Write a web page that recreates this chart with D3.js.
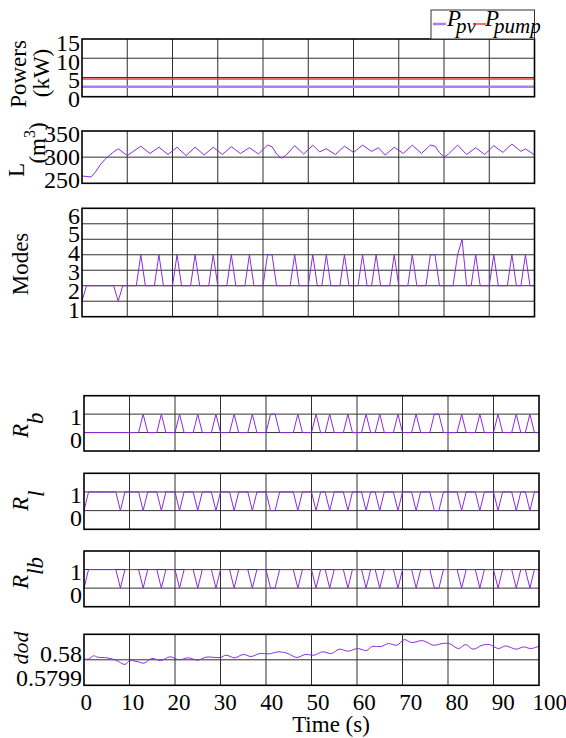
<!DOCTYPE html>
<html>
<head>
<meta charset="utf-8">
<script src="https://cdn.jsdelivr.net/npm/d3@7/dist/d3.min.js"></script>
<style>
html,body{margin:0;padding:0;background:#fff;}
svg{display:block;}
</style>
</head>
<body>
<svg id="chart" width="566" height="738"></svg>
<script>
// ================= DATA =================
const timeTicks = [0,10,20,30,40,50,60,70,80,90,100];
const gridTimes = [10,20,30,40,50,60,70,80,90];

// Powers (kW)
const powerTime = [0, 100];
const pPv   = [2.6, 2.6];
const pPump = [4.6, 4.6];
const powerTicks = [0,5,10,15];

// Level L (m^3)
const levelTime = [0,2,3,4,5,6,7,8,10,13,15,17,19,21,23,25,27,29,31,33,35,37,39,41,42,43,44,45,47,49,51,52.5,54,56,58,60,62,64,65.5,67,69,71,73,75,77,78,79,80,81,83,85,87,89,91,93,95,97,98,100];
const levelM3   = [264,262,272,285,295,303,310,316,303,321,307,319,305,319,303,319,304,319,305,320,307,318,306,323,320,306,298,303,322,306,323,310,316,305,321,309,323,311,318,304,319,307,323,307,323,321,309,300,306,323,305,318,305,322,309,325,311,316,304];
const levelTicks = [250,300,350];

// 1-second samples
const sampleTime = [0,1,2,3,4,5,6,7,8,9,10,11,12,13,14,15,16,17,18,19,20,21,22,23,24,25,26,27,28,29,30,31,32,33,34,35,36,37,38,39,40,41,42,43,44,45,46,47,48,49,50,51,52,53,54,55,56,57,58,59,60,61,62,63,64,65,66,67,68,69,70,71,72,73,74,75,76,77,78,79,80,81,82,83,84,85,86,87,88,89,90,91,92,93,94,95,96,97,98,99,100];
const modes = [
 1,2,2,2,2,2,2,2,1,2,
 2,2,2,4,2,2,2,4,2,2,
 2,4,2,2,2,4,2,2,2,4,
 2,2,2,4,2,2,2,4,2,2,
 2,4,4,2,2,2,2,4,2,2,
 2,4,2,2,4,2,2,2,4,2,
 2,2,4,2,2,4,2,2,2,4,
 2,2,2,4,2,2,2,4,4,2,
 2,2,2,4,5,2,2,4,2,2,
 2,4,2,2,2,4,2,2,4,2,
 2];
const modeTicks = [1,2,3,4,5,6];

const rB = [
 0,0,0,0,0,0,0,0,0,0,
 0,0,0,1,0,0,0,1,0,0,
 0,1,0,0,0,1,0,0,0,1,
 0,0,0,1,0,0,0,1,0,0,
 0,1,1,0,0,0,0,1,0,0,
 0,1,0,0,1,0,0,0,1,0,
 0,0,1,0,0,1,0,0,0,1,
 0,0,0,1,0,0,0,1,1,0,
 0,0,0,1,0,0,0,1,0,0,
 0,1,0,0,0,1,0,0,1,0,
 0];
const rL = [
 0,1,1,1,1,1,1,1,0,1,
 1,1,1,0,1,1,1,0,1,1,
 1,0,1,1,1,0,1,1,1,0,
 1,1,1,0,1,1,1,0,1,1,
 1,0,0,1,1,1,1,0,1,1,
 1,0,1,1,0,1,1,1,0,1,
 1,1,0,1,1,0,1,1,1,0,
 1,1,1,0,1,1,1,0,0,1,
 1,1,1,0,1,1,1,0,1,1,
 1,0,1,1,1,0,1,1,0,1,
 1];
const rLB = [
 0,1,1,1,1,1,1,1,0,1,
 1,1,1,0,1,1,1,0,1,1,
 1,0,1,1,1,0,1,1,1,0,
 1,1,1,0,1,1,1,0,1,1,
 1,0,0,1,1,1,1,0,1,1,
 1,0,1,1,0,1,1,1,0,1,
 1,1,0,1,1,0,1,1,1,0,
 1,1,1,0,1,1,1,0,0,1,
 1,1,1,0,1,1,1,0,1,1,
 1,0,1,1,1,0,1,1,0,1,
 1];
const relayTicks = [0,1];

// dod
const dodTime = [0,1,2.1,3,5,7,9,10,11.9,13.2,14.9,16.9,18.9,20.9,22.8,25.1,26.8,30,31.2,33.1,35,36.7,38.7,40.7,42.7,44.6,46.8,48.6,50.6,52.4,54.4,56.1,58.1,60.1,62.1,63.3,65.3,66.9,68.8,70.4,72,74.4,76.8,78.7,80.3,82.3,83.9,85.5,87.5,89.1,91.1,92.6,95,96.6,98.2,100];
const dod = [0.580003,0.580003,0.5800156,0.5800104,0.5800078,0.5799987,0.5799818,0.5799961,0.5799922,0.579987,0.5800052,0.5799974,0.5800117,0.58,0.5800078,0.5799987,0.5800104,0.5800091,0.5800182,0.5800078,0.5800208,0.580013,0.5800247,0.5800234,0.5800312,0.580026,0.5800091,0.5800208,0.5800182,0.5800312,0.5800247,0.5800416,0.5800338,0.5800442,0.5800364,0.580052,0.580052,0.5800636,0.5800571,0.5800792,0.5800675,0.5800753,0.5800571,0.5800636,0.5800636,0.5800442,0.5800597,0.5800416,0.5800571,0.5800597,0.5800442,0.5800545,0.5800416,0.5800506,0.5800442,0.5800532];
const dodTicks = [0.5799, 0.58];

// ================= DRAWING =================
const FONT = '"Liberation Serif","Times New Roman",Times,serif';
const PURPLE = '#8a2be2';
const PV_PURPLE = '#b07cf0';
const RED = '#e8423a';
const svg = d3.select('#chart');

const upperX = [82, 534.5];
const lowerX = [84, 539];

const panels = [
  {xr: upperX, top: 39,    bottom: 96.7,  yd: [0,15],      grid: [5,10],          ticks: powerTicks, lab: [0.5,16.1],
   series: [{t: powerTime, v: pPump, c: RED, w: 1.5}, {t: powerTime, v: pPv, c: PV_PURPLE, w: 2.5}]},
  {xr: upperX, top: 131,   bottom: 183.3, yd: [250,350],   grid: [300],           ticks: levelTicks, lab: [243,357],
   series: [{t: levelTime, v: levelM3, c: PURPLE, w: 1}]},
  {xr: upperX, top: 208.3, bottom: 316.7, yd: [0,7],       grid: [1,2,3,4,5,6],   ticks: modeTicks, lab: [0.62,6.38],
   series: [{t: sampleTime, v: modes, c: PURPLE, w: 1}]},
  {xr: lowerX, top: 395.7, bottom: 451,   yd: [-1,2],      grid: [0,1],           ticks: relayTicks, lab: [-0.5,1.92],
   series: [{t: sampleTime, v: rB, c: PURPLE, w: 1}]},
  {xr: lowerX, top: 473.3, bottom: 529.3, yd: [-1,2],      grid: [0,1],           ticks: relayTicks, lab: [-0.5,1.92],
   series: [{t: sampleTime, v: rL, c: PURPLE, w: 1}]},
  {xr: lowerX, top: 551,   bottom: 606.7, yd: [-1,2],      grid: [0,1],           ticks: relayTicks, lab: [-0.5,1.92],
   series: [{t: sampleTime, v: rLB, c: PURPLE, w: 1}]},
  {xr: lowerX, top: 634.3, bottom: 685.3, yd: [0.5799,0.5801], grid: [0.58],      ticks: dodTicks, lab: [0.579869,0.580083],
   series: [{t: dodTime, v: dod, c: PURPLE, w: 1, curve: d3.curveCatmullRom}], xaxis: true}
];

panels.forEach(p => {
  const x = d3.scaleLinear().domain([0,100]).range(p.xr);
  const y = d3.scaleLinear().domain(p.yd).range([p.bottom, p.top]);
  const g = svg.append('g');

  g.selectAll('line.vg').data(gridTimes).join('line').attr('class','vg')
    .attr('x1', d => x(d)).attr('x2', d => x(d))
    .attr('y1', p.top).attr('y2', p.bottom)
    .attr('stroke', '#303030').attr('stroke-width', 1);
  g.selectAll('line.hg').data(p.grid).join('line').attr('class','hg')
    .attr('x1', p.xr[0]).attr('x2', p.xr[1])
    .attr('y1', d => y(d)).attr('y2', d => y(d))
    .attr('stroke', '#303030').attr('stroke-width', 1);

  p.series.forEach(s => {
    const pts = s.t.map((t, i) => [t, s.v[i]]);
    g.append('path').datum(pts)
      .attr('d', d3.line().x(d => x(d[0])).y(d => y(d[1])).curve(s.curve || d3.curveLinear))
      .attr('fill', 'none').attr('stroke', s.c).attr('stroke-width', s.w);
  });

  g.append('rect').attr('x', p.xr[0]).attr('y', p.top)
    .attr('width', p.xr[1] - p.xr[0]).attr('height', p.bottom - p.top)
    .attr('fill', 'none').attr('stroke', '#000').attr('stroke-width', 1.6);

  const ly = d3.scaleLinear().domain(p.lab).range([p.bottom, p.top]);
  const ax = g.append('g').attr('transform', `translate(${p.xr[0]},0)`)
    .call(d3.axisLeft(ly).tickValues(p.ticks).tickSize(0).tickPadding(2).tickFormat(d => String(d)));
  ax.attr('font-family', null).attr('font-size', null);
  ax.select('.domain').remove();
  ax.selectAll('text').attr('font-family', FONT).attr('font-size', 24).attr('fill', '#000');

  if (p.xaxis) {
    const lx = d3.scaleLinear().domain([-0.4, 97.8]).range(p.xr);
    const bx = g.append('g').attr('transform', `translate(0,${p.bottom})`)
      .call(d3.axisBottom(lx).tickValues(timeTicks).tickSize(0).tickPadding(8).tickFormat(d => String(d)));
    bx.attr('font-family', null).attr('font-size', null);
    bx.select('.domain').remove();
    bx.selectAll('text').attr('font-family', FONT).attr('font-size', 23).attr('fill', '#000');
  }
});

// axis titles (rotated)
function vlabel(x, y, anchor, parts, size) {
  const t = svg.append('text')
    .attr('transform', `translate(${x},${y}) rotate(-90)`)
    .attr('text-anchor', anchor).attr('font-family', FONT)
    .attr('font-size', size).attr('fill', '#000');
  parts.forEach(pt => {
    const s = t.append('tspan').text(pt.text);
    if (pt.dy !== undefined) s.attr('dy', pt.dy);
    if (pt.dx !== undefined) s.attr('dx', pt.dx);
    if (pt.italic) s.attr('font-style', 'italic');
    if (pt.size) s.attr('font-size', pt.size);
  });
}
vlabel(26, 74, 'middle', [{text: 'Powers'}], 23);
vlabel(49, 73, 'middle', [{text: '(kW)'}], 23);
vlabel(24, 170, 'middle', [{text: 'L'}], 23);
vlabel(45, 143, 'middle', [{text: '(m'}, {text: '3', dy: -10, size: 16}, {text: ')', dy: 10}], 23);
vlabel(28, 264, 'middle', [{text: 'Modes'}], 23);
vlabel(28, 438, 'start', [{text: 'R', italic: true}, {text: 'b', italic: true, dy: 14.5}], 23);
vlabel(28, 511, 'start', [{text: 'R', italic: true}, {text: 'l', italic: true, dy: 15.5}], 23);
vlabel(28, 589, 'start', [{text: 'R', italic: true}, {text: 'lb', italic: true, dy: 15}], 23);
vlabel(28, 648, 'middle', [{text: 'dod', italic: true}], 22);

svg.append('text').attr('x', 331).attr('y', 732).attr('text-anchor', 'middle')
  .attr('font-family', FONT).attr('font-size', 23).text('Time (s)');

// legend
const legendItems = [
  {name: 'pv',   color: PV_PURPLE, w: 2.5, lx0: 433, lx1: 446, tx: 447},
  {name: 'pump', color: RED,       w: 1.5, lx0: 473, lx1: 486, tx: 485}
];
const lg = svg.append('g');
lg.append('rect').attr('x', 431).attr('y', 10).attr('width', 103.5).attr('height', 29)
  .attr('fill', '#fff').attr('stroke', '#333').attr('stroke-width', 1);
legendItems.forEach(it => {
  lg.append('line').attr('x1', it.lx0).attr('x2', it.lx1).attr('y1', 24).attr('y2', 24)
    .attr('stroke', it.color).attr('stroke-width', it.w);
  const t = lg.append('text').attr('x', it.tx).attr('y', 26)
    .attr('font-family', FONT).attr('font-size', 23).attr('font-style', 'italic');
  t.append('tspan').text('P');
  t.append('tspan').attr('dx', -5).attr('dy', 7).attr('font-size', 21).text(it.name);
});
</script>
</body>
</html>
